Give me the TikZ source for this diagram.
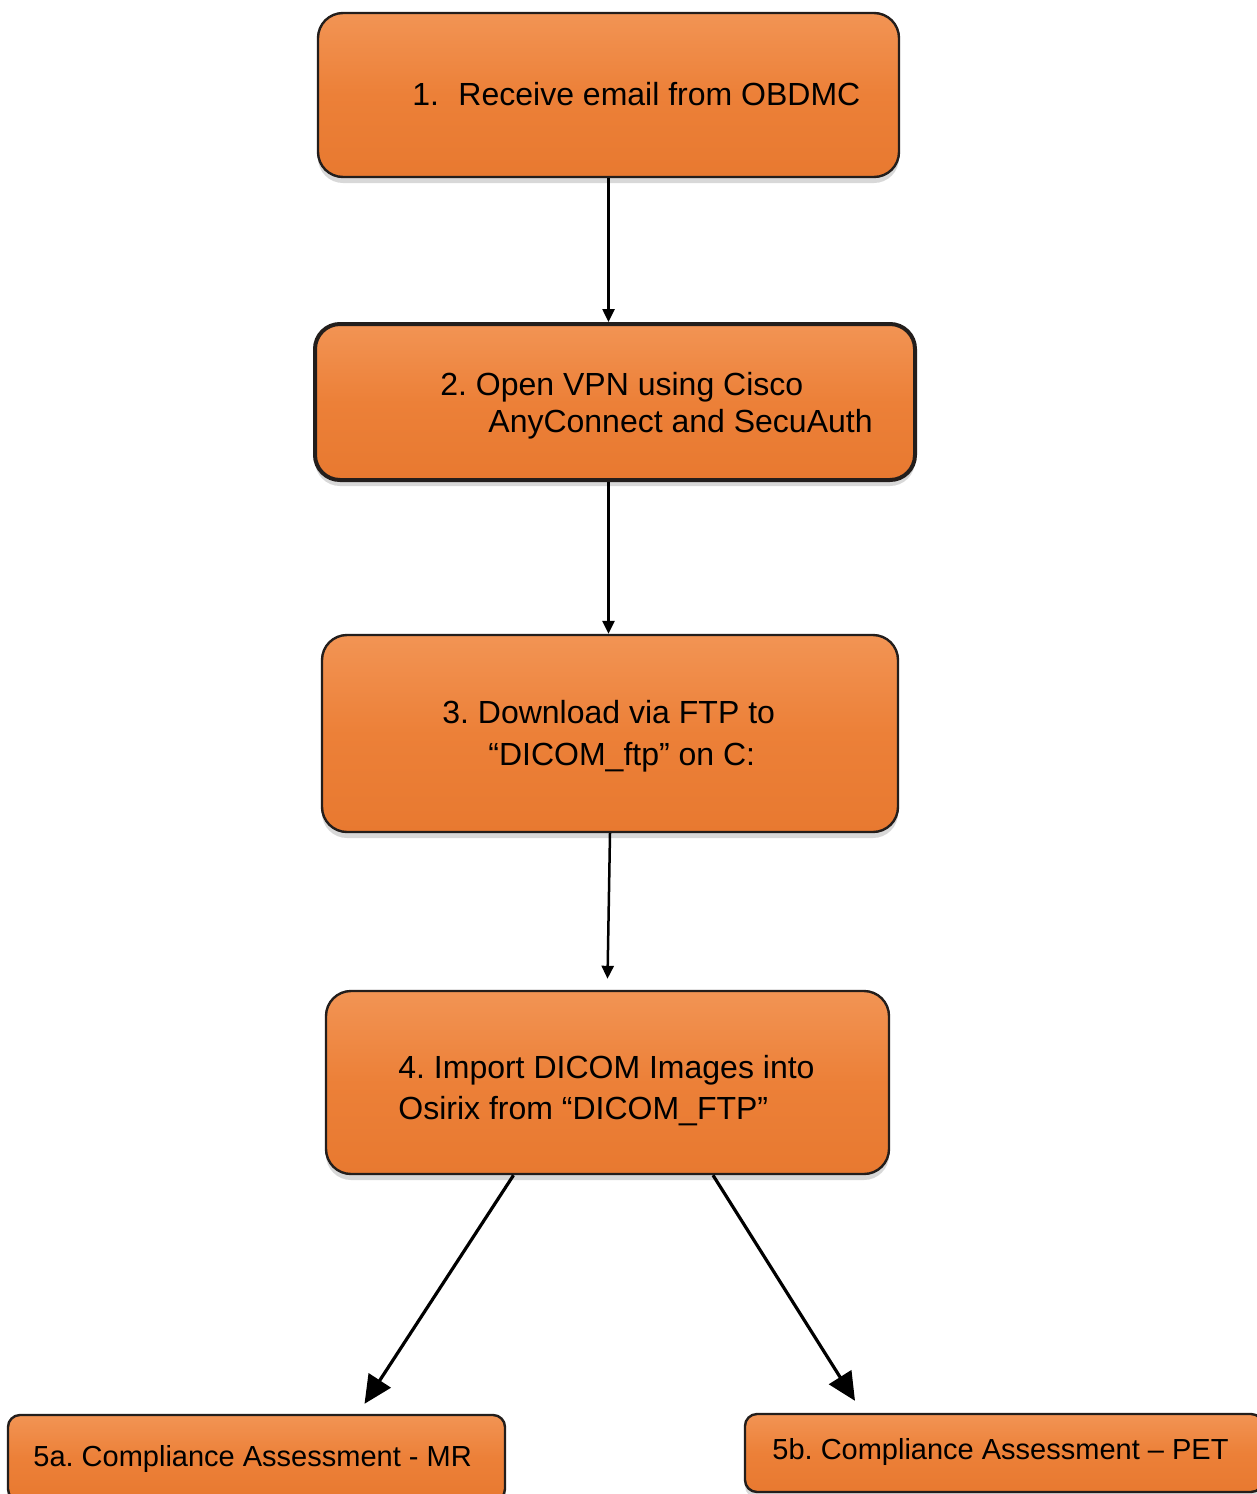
\documentclass[tikz,border=0pt]{standalone}
\usepackage{fontspec}
\setmainfont{Liberation Sans}
\frenchspacing
\usetikzlibrary{shadows,arrows.meta}
\definecolor{orTop}{RGB}{242,148,84}
\definecolor{orMid}{RGB}{236,128,56}
\definecolor{orBot}{RGB}{232,121,48}
\definecolor{edgec}{RGB}{35,30,28}
\begin{document}
\begin{tikzpicture}[x=0.5pt,y=-0.5pt,
  box/.style={rounded corners=12.5pt, draw=edgec, line width=1.2pt,
    top color=orTop, bottom color=orBot, middle color=orMid,
    drop shadow={opacity=0.3, shadow xshift=0pt, shadow yshift=-3pt},
    inner sep=0pt},
  smallbox/.style={box, rounded corners=6pt},
  txt/.style={inner sep=0pt, anchor=base west, font=\fontsize{16pt}{18pt}\selectfont},
  stxt/.style={inner sep=0pt, anchor=base west, font=\fontsize{14.5pt}{17pt}\selectfont},
  arr/.style={line width=1.25pt, -{Triangle[length=6.5pt,width=6pt]}},
  bigarr/.style={line width=1.6pt, -{Triangle[length=14pt,width=13pt]}}]
\useasboundingbox (0,0) rectangle (1257,1494);
\fill[white] (0,0) rectangle (1257,1494);

% boxes
\node[box, minimum width=290.5pt, minimum height=82pt] (b1) at (608.5,95) {};
\node[box, line width=2pt, minimum width=300pt, minimum height=78pt] (b2) at (615,402) {};
\node[box, minimum width=288pt, minimum height=98.5pt] (b3) at (610,733.5) {};
\node[box, minimum width=281.5pt, minimum height=91.5pt] (b4) at (607.5,1082.5) {};
\node[smallbox, minimum width=248.5pt, minimum height=43pt] (b5a) at (256.5,1458) {};
\node[smallbox, minimum width=259pt, minimum height=39pt] (b5b) at (1004,1453) {};

% texts
\node[txt] (t1) at (412,105) {1.\hspace*{9.7pt}Receive email from OBDMC};
\node[txt] (t2a) at (440,395) {2. Open VPN using Cisco};
\node[txt] (t2b) at (488,432) {AnyConnect and SecuAuth};
\node[txt] (t3a) at (442,723) {3. Download via FTP to};
\node[txt] (t3b) at (488,765) {“DICOM\_ftp” on C:};
\node[txt] (t4a) at (398,1078) {4. Import DICOM Images into};
\node[txt] (t4b) at (398,1119) {Osirix from “DICOM\_FTP”};
\node[stxt] (t5a) at (33,1466) {5a. Compliance Assessment - MR};
\node[stxt] (t5b) at (772,1459) {5b. Compliance Assessment – PET};

% connectors
\draw[arr] (b1.south) -- (b1.south |- b2.north);
\draw[arr] (b1.south |- b2.south) -- (b1.south |- b3.north);
\draw[arr] (b3.south) -- ([yshift=5.5pt]b4.north);
\draw[bigarr] ([xshift=-47pt]b4.south) -- ([xshift=54pt,yshift=5pt]b5a.north);
\draw[bigarr] ([xshift=52.75pt]b4.south) -- ([xshift=-74.5pt,yshift=6pt]b5b.north);
\end{tikzpicture}
\end{document}
